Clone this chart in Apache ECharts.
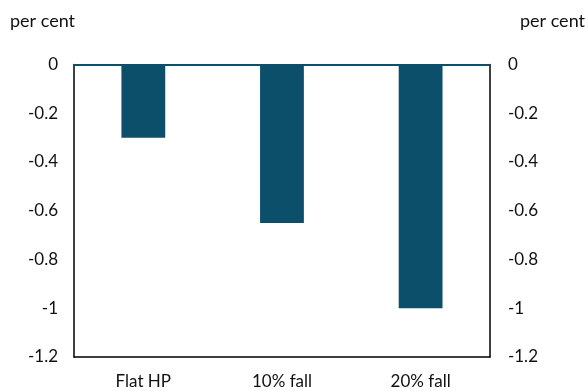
<!DOCTYPE html>
<html><head><meta charset="utf-8">
<script src="https://cdn.jsdelivr.net/npm/echarts@6/dist/echarts.min.js"></script>
<style>html,body{margin:0;padding:0;background:#fff}#c{width:588px;height:391px}</style>
</head><body><div id="c"></div>
<script>
var categories = ['Flat HP', '10% fall', '20% fall'];
var values = [-0.3, -0.65, -1.0];
var unitLabel = 'per cent';

var chart = echarts.init(document.getElementById('c'), null, {renderer: 'canvas'});
var font = 'Lato, "Noto Sans", sans-serif';
var yBase = {
  type: 'value', min: -1.2, max: 0, interval: 0.2,
  splitLine: {show: false},
  axisTick: {show: false},
  axisLine: {show: true, lineStyle: {color: '#000', width: 1.5}},
  axisLabel: {fontFamily: font, fontSize: 17, color: '#111',
    formatter: function (v) { return String(Math.round(v * 10) / 10); }},
  name: unitLabel, nameLocation: 'end', nameGap: 34,
  nameTextStyle: {fontFamily: font, fontSize: 18, color: '#111'}
};
chart.setOption({
  animation: false,
  grid: {left: 74, right: 97, top: 64.5, bottom: 34},
  xAxis: {
    type: 'category', data: categories,
    axisLine: {onZero: false, lineStyle: {color: '#000', width: 1.5}},
    axisTick: {show: false},
    axisLabel: {fontFamily: font, fontSize: 17, color: '#111', margin: 16}
  },
  yAxis: [
    Object.assign({}, yBase, {position: 'left', axisLabel: Object.assign({}, yBase.axisLabel, {margin: 16}),
      nameTextStyle: Object.assign({}, yBase.nameTextStyle, {align: 'left', padding: [0, 0, 0, -64]})}),
    Object.assign({}, yBase, {position: 'right', axisLabel: Object.assign({}, yBase.axisLabel, {margin: 18}),
      nameTextStyle: Object.assign({}, yBase.nameTextStyle, {align: 'left', padding: [0, 0, 0, 30]})})
  ],
  series: [{
    type: 'bar', data: values, barWidth: '31.6%',
    itemStyle: {color: '#0b4f6a'},
    markLine: {silent: true, symbol: 'none', label: {show: false},
      lineStyle: {color: '#0b4f6a', width: 2, type: 'solid'},
      data: [{yAxis: 0}]}
  }]
});
</script></body></html>
